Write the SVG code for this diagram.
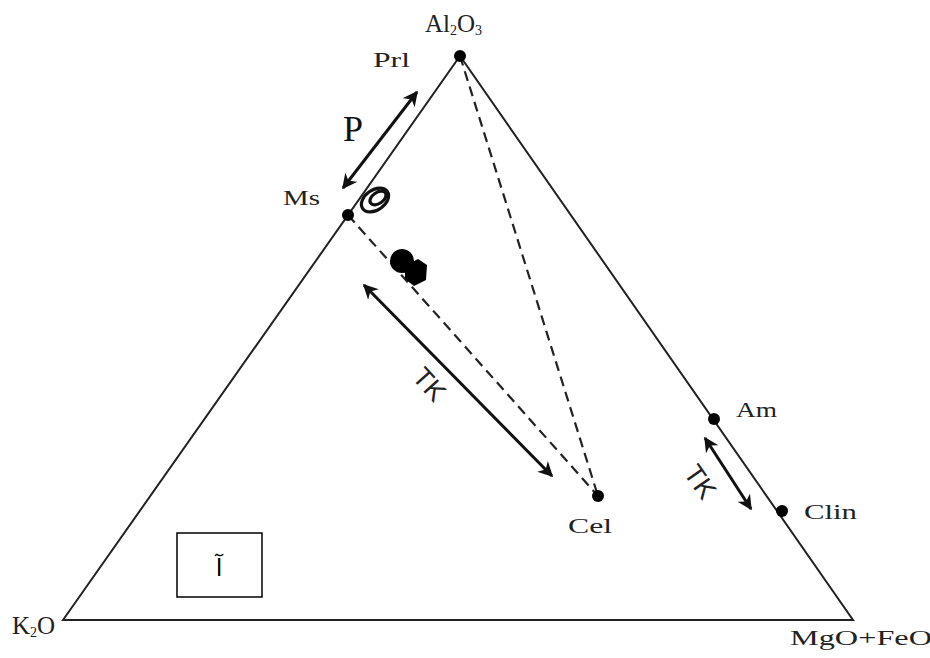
<svg xmlns="http://www.w3.org/2000/svg" width="930" height="658" viewBox="0 0 930 658">
<defs>
<marker id="ah" viewBox="0 0 10 10" refX="9" refY="5" markerWidth="5" markerHeight="5" orient="auto-start-reverse" markerUnits="strokeWidth">
<path d="M0,0 L10,5 L0,10 L3,5 Z" fill="#111"/>
</marker>
</defs>
<style>
.lbl{font-family:"Liberation Serif","Times New Roman",serif;font-size:22px;fill:#222}
.chem{font-family:"Liberation Serif","Times New Roman",serif;font-size:25px;fill:#222}
.big{font-family:"Liberation Serif","Times New Roman",serif;font-size:36px;fill:#111}
.tk{font-family:"Liberation Sans",Arial,sans-serif;font-size:27px;fill:#222}
.edge{stroke:#222;stroke-width:2;fill:none}
.dash{stroke:#222;stroke-width:2.2;fill:none;stroke-dasharray:10 6}
.arr{stroke:#111;stroke-width:3;fill:none;marker-start:url(#ah);marker-end:url(#ah)}
.dot{fill:#000}
.ring{fill:none;stroke:#111;stroke-width:3.2}
</style>
<rect width="930" height="658" fill="#fff"/>
<g id="connectors">
<path class="edge" d="M63,620 L460,56 L853,620 Z"/>
<line class="dash" x1="460" y1="56" x2="598" y2="496"/>
<line class="dash" x1="348" y1="215" x2="598" y2="496"/>
<line class="arr" x1="343" y1="188" x2="417" y2="92"/>
<line class="arr" x1="364" y1="285" x2="552" y2="476"/>
<line class="arr" x1="705" y1="438" x2="751" y2="509"/>
</g>
<g id="node-al2o3">
<circle class="dot" cx="460" cy="56" r="6"/>
<text class="chem" x="425" y="32">Al<tspan font-size="14" dy="3">2</tspan><tspan dy="-3">O</tspan><tspan font-size="14" dy="3">3</tspan></text>
</g>
<g id="node-prl"><text class="lbl" x="373" y="67" textLength="37" lengthAdjust="spacingAndGlyphs">Prl</text></g>
<g id="node-ms">
<circle class="dot" cx="348" cy="215" r="6"/>
<text class="lbl" x="283" y="205" textLength="37" lengthAdjust="spacingAndGlyphs">Ms</text>
</g>
<g id="label-p"><text class="big" x="343" y="141">P</text></g>
<g id="rings">
<ellipse class="ring" cx="375" cy="200" rx="15" ry="10" transform="rotate(-35 375 200)"/>
<ellipse class="ring" cx="378" cy="198" rx="9" ry="5.5" transform="rotate(-35 378 198)"/>
</g>
<g id="blob">
<circle cx="402" cy="261" r="12" fill="#000"/>
<path d="M405,266 L418,259 L427,265 L426,280 L414,286 L405,279 Z" fill="#000"/>
</g>
<g id="label-tk1"><text class="tk" x="430" y="394" text-anchor="middle" transform="rotate(48 430 384)">TK</text></g>
<g id="node-cel">
<circle class="dot" cx="598" cy="496" r="6"/>
<text class="lbl" x="568" y="533" textLength="44" lengthAdjust="spacingAndGlyphs">Cel</text>
</g>
<g id="node-am">
<circle class="dot" cx="714" cy="419" r="6"/>
<text class="lbl" x="736" y="417" textLength="41" lengthAdjust="spacingAndGlyphs">Am</text>
</g>
<g id="node-clin">
<circle class="dot" cx="782" cy="511" r="6"/>
<text class="lbl" x="804" y="519" textLength="53" lengthAdjust="spacingAndGlyphs">Clin</text>
</g>
<g id="label-tk2"><text class="tk" x="700" y="491" text-anchor="middle" transform="rotate(55 700 482)">TK</text></g>
<g id="node-k2o"><text class="chem" x="12" y="634">K<tspan font-size="14" dy="3">2</tspan><tspan dy="-3">O</tspan></text></g>
<g id="node-mgofeo"><text class="lbl" x="790" y="645" textLength="142" lengthAdjust="spacingAndGlyphs">MgO+FeO</text></g>
<g id="box">
<rect x="177" y="533" width="85" height="64" fill="#fff" stroke="#000" stroke-width="1.5"/>
<text x="219" y="576" text-anchor="middle" style="font-family:'DejaVu Sans','Noto Sans',sans-serif;font-size:24px;fill:#000">آ</text>
</g>
</svg>
